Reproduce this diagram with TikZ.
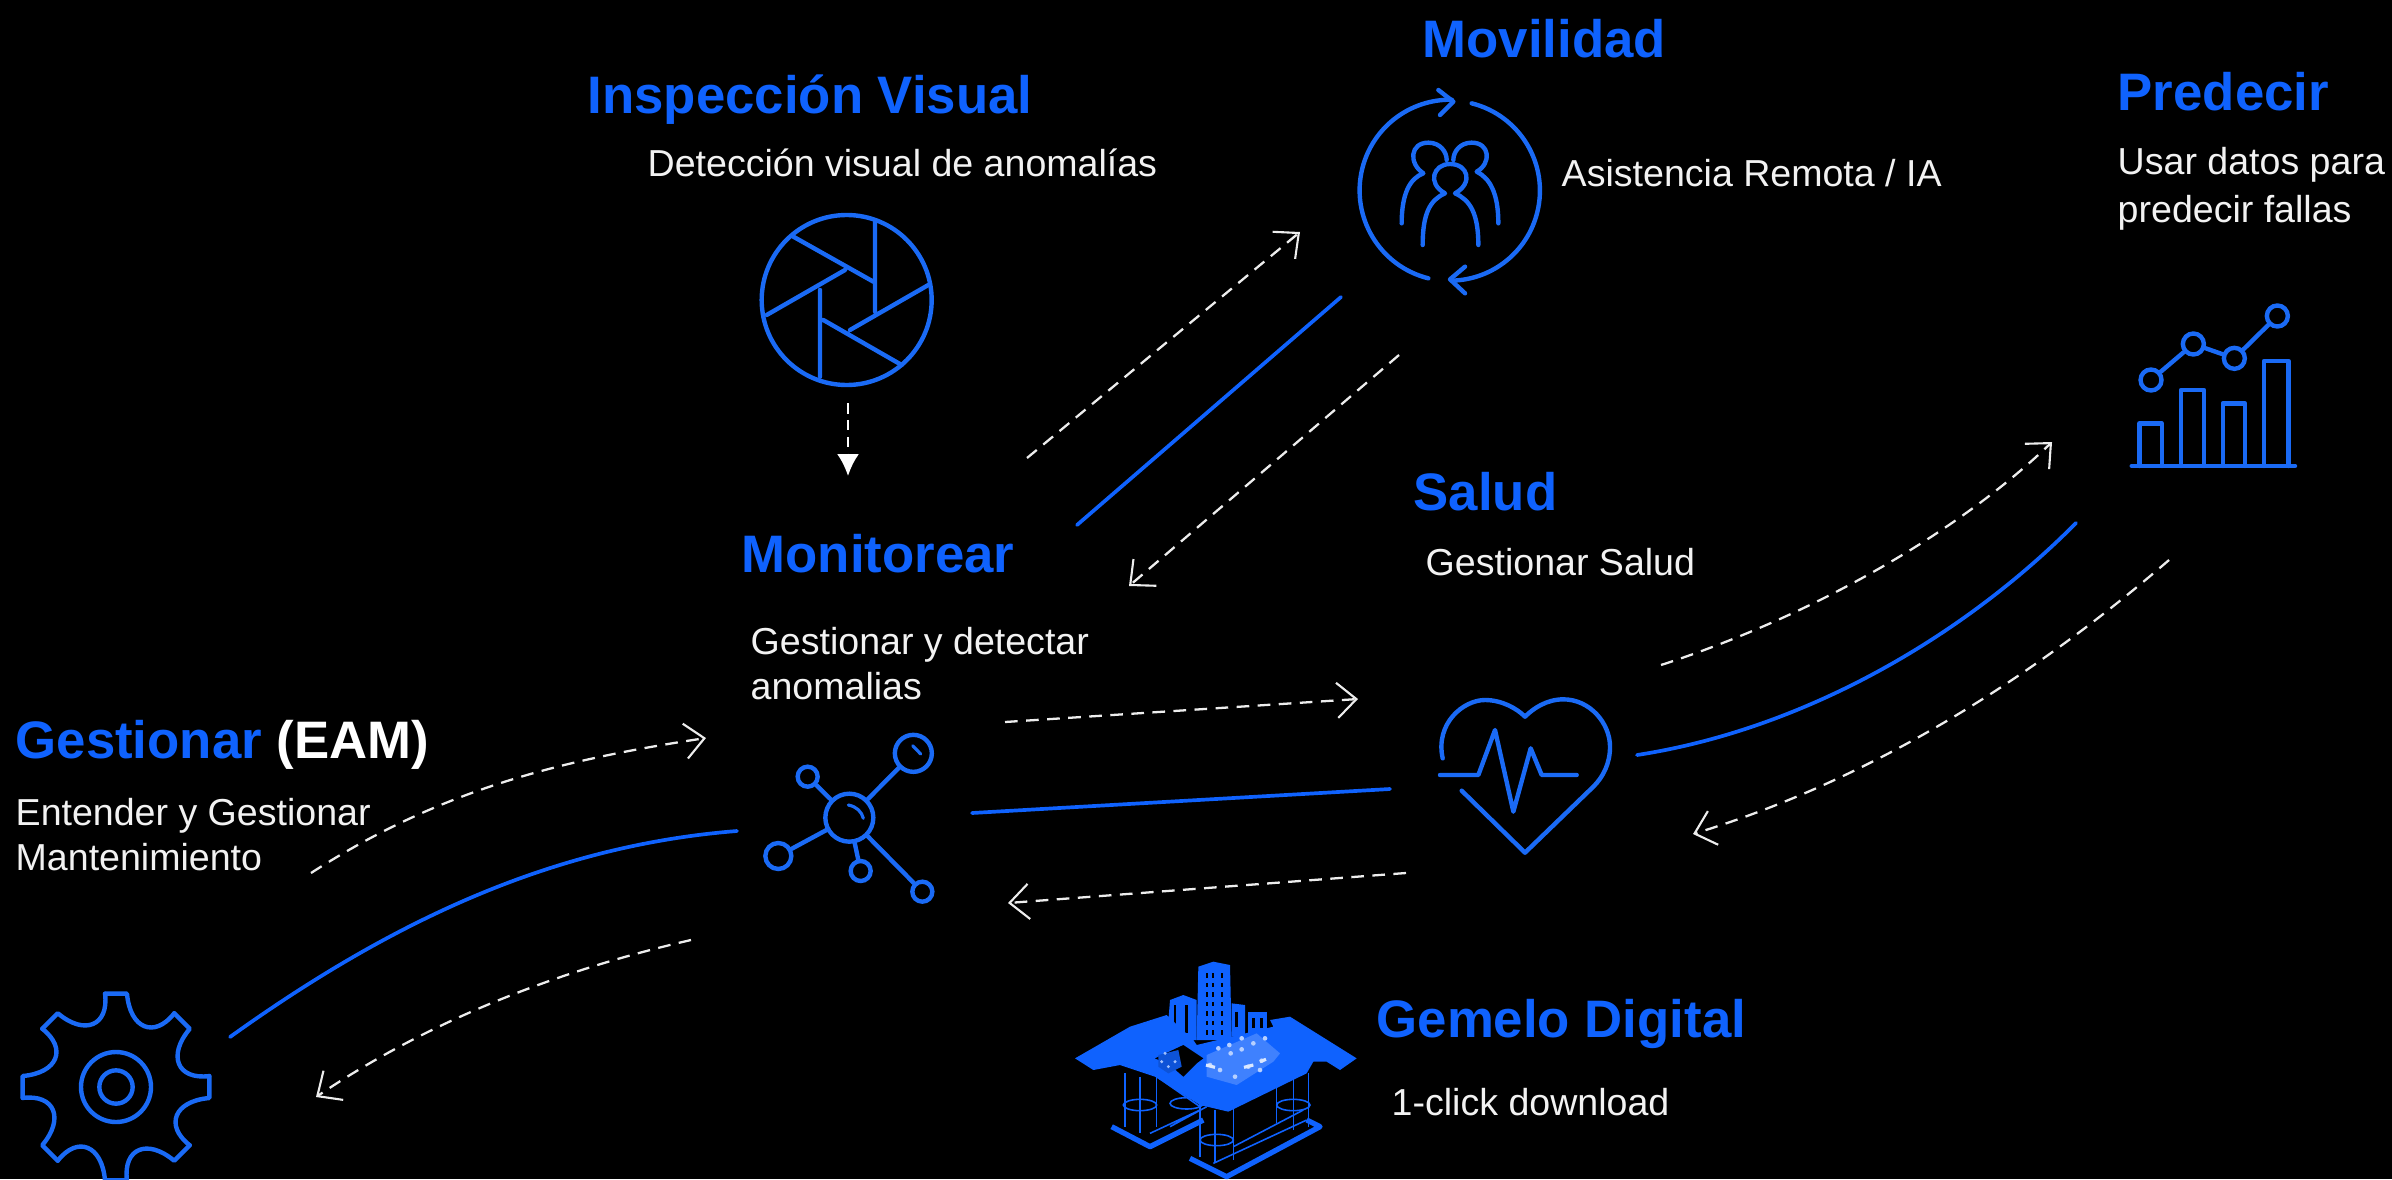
\documentclass[tikz,border=0pt]{standalone}
\usepackage{fontspec}
\setmainfont{Liberation Sans}
\usetikzlibrary{arrows.meta}
\definecolor{ibmblue}{HTML}{0F62FE}
\definecolor{iconblue}{HTML}{1A6AF5}
\definecolor{dashgray}{HTML}{EDEDED}
\definecolor{bodygray}{HTML}{F2F2F2}
\tikzset{
  x=0.01cm,y=-0.01cm,
  titletext/.style={anchor=base west,inner sep=0pt,text=ibmblue,font=\fontsize{15}{18}\selectfont\bfseries},
  bodytext/.style={anchor=north west,inner sep=0pt,text=bodygray,align=left,font=\fontsize{10.68}{12.8}\selectfont},
  iconline/.style={draw=iconblue,line width=1.25pt,line cap=round,line join=round},
  ring/.style={circle,draw=iconblue,line width=1.25pt,inner sep=0pt},
  bluelink/.style={draw=ibmblue,line width=1.05pt,line cap=round},
  dashlink/.style={draw=dashgray,line width=0.65pt,dash pattern=on 3.6pt off 2.4pt,-{Straight Barb[length=5.5pt,width=10pt,line width=0.6pt]}},
  thinrig/.style={draw=ibmblue,line width=0.45pt},
}
\begin{document}
\begin{tikzpicture}
\fill[black] (0,0) rectangle (2392,1179);
\useasboundingbox (0,0) rectangle (2392,1179);

% ---------- titles and texts
\node[titletext] (tMov) at (1422,58) {Movilidad};
\node[titletext] (tIns) at (587,114) {Inspección Visual};
\node[titletext] (tPre) at (2117,111) {Predecir};
\node[titletext] (tSal) at (1413,510) {Salud};
\node[titletext] (tMon) at (741,572) {Monitorear};
\node[titletext] (tGes) at (15,758) {Gestionar \textcolor{white}{(EAM)}};
\node[titletext] (tGem) at (1376,1037) {Gemelo Digital};
\node[bodytext] (bIns) at (647,148) {Detección visual de anomalías};
\node[bodytext] (bMov) at (1561,159) {Asistencia Remota / IA};
\node[bodytext] (bPre) at (2117,147) {Usar datos para\\[0.6pt]predecir fallas};
\node[bodytext] (bSal) at (1425,548) {Gestionar Salud};
\node[bodytext] (bMon) at (750,627) {Gestionar y detectar\\anomalias};
\node[bodytext] (bGes) at (15,798) {Entender y Gestionar\\Mantenimiento};
\node[bodytext] (bGem) at (1391,1088) {1-click download};

% ---------- shutter icon
\begin{scope}[shift={(720,180)},scale=1/3]
  \node[ring,minimum size=0.01cm*170] (shutter) at (380,360) {};
  \draw[iconline] (220,170)--(460,305) (465,125)--(465,395) (625,315)--(390,450)
    (545,555)--(310,420) (300,590)--(300,330) (140,405)--(375,270);
\end{scope}

% ---------- mobility icon
\begin{scope}[shift={(1340,60)},scale=1/3]
  \coordinate (movc) at (330,390);
  \draw[iconline] (265,655) arc[start angle=104,end angle=271,radius=272];
  \draw[iconline] (395,130) arc[start angle=-76,end angle=88,radius=270];
  \draw[iconline] (295,90)--(340,125)--(300,165);
  \draw[iconline] (375,620)--(330,658)--(375,700);
  \draw[iconline] (185,490) .. controls (185,400) and (210,355) .. (250,340)
     .. controls (205,310) and (210,248) .. (265,248) .. controls (300,248) and (320,275) .. (320,300);
  \draw[iconline] (475,490) .. controls (475,400) and (450,355) .. (410,335)
     .. controls (455,310) and (450,248) .. (395,248) .. controls (360,248) and (340,275) .. (340,300);
  \draw[iconline] (248,555) .. controls (248,460) and (270,420) .. (315,400)
     .. controls (260,370) and (280,312) .. (330,312) .. controls (385,312) and (400,370) .. (345,400)
     .. controls (390,420) and (415,460) .. (415,555);
\end{scope}

% ---------- hub icon
\begin{scope}[shift={(720,680)},scale=1/3]
  \node[ring,minimum size=0.01cm*48] (hub) at (388,413) {};
  \node[ring,minimum size=0.01cm*20] (h1) at (263,290) {};
  \node[ring,minimum size=0.01cm*37] (h2) at (580,220) {};
  \node[ring,minimum size=0.01cm*26] (h3) at (175,528) {};
  \node[ring,minimum size=0.01cm*20] (h4) at (422,573) {};
  \node[ring,minimum size=0.01cm*20] (h5) at (607,635) {};
  \foreach \n in {h1,h2,h3,h4,h5} \draw[iconline] (hub)--(\n);
  \draw[iconline,line width=0.9pt] (385,375) .. controls (410,380) and (425,395) .. (430,415);
  \draw[iconline,line width=0.9pt] (578,197) -- (602,222);
\end{scope}

% ---------- gear icon
\begin{scope}[shift={(116,1087)},scale=1/3]
  \foreach \a in {0,45,...,315}
    \draw[iconline,rotate=\a] (-33,-280)--(33,-280) .. controls (42,-175) and (115,-145) .. (174.6,-221);
  \draw[iconline] (0,0) circle[radius=105];
  \draw[iconline] (0,0) circle[radius=50];
\end{scope}

% ---------- chart icon
\begin{scope}[shift={(2100,280)},scale=1/3]
  \draw[iconline] (95,558)--(585,558);
  \draw[iconline] (118,558)--(118,430)--(185,430)--(185,558);
  \draw[iconline] (243,558)--(243,330)--(312,330)--(312,558);
  \draw[iconline] (368,558)--(368,370)--(435,370)--(435,558);
  \draw[iconline] (492,558)--(492,243)--(565,243)--(565,558);
  \node[ring,minimum size=0.01cm*21] (c1) at (153,300) {};
  \node[ring,minimum size=0.01cm*21] (c2) at (280,192) {};
  \node[ring,minimum size=0.01cm*21] (c3) at (403,235) {};
  \node[ring,minimum size=0.01cm*21] (c4) at (532,108) {};
  \draw[iconline] (c1)--(c2) (c2)--(c3) (c3)--(c4);
\end{scope}

% ---------- heart icon
\begin{scope}[shift={(1400,670)},scale=1/3]
  \draw[iconline] (128,265) .. controls (105,160) and (190,90) .. (255,90)
    .. controls (305,90) and (350,115) .. (375,140) .. controls (400,115) and (440,88) .. (490,88)
    .. controls (570,88) and (630,160) .. (630,230) .. controls (630,280) and (610,320) .. (580,350)
    -- (375,548) -- (185,362);
  \draw[iconline] (120,315)--(235,315)--(285,180)--(340,425)--(392,235)--(425,315)--(530,315);
\end{scope}

% ---------- offshore platform icon
\begin{scope}[shift={(1040,930)},scale=1/3]
  % legs
  \draw[thinrig] (255,430)--(255,590) (300,440)--(300,610) (350,440)--(350,590);
  \draw[thinrig] (480,430)--(480,680) (525,540)--(525,700) (580,530)--(580,690);
  \draw[thinrig] (710,460)--(710,580) (760,440)--(760,600) (805,430)--(805,590);
  \foreach \c in {(300,525),(530,630),(760,525),(440,520)}
    \draw[thinrig] \c ellipse[x radius=50,y radius=17];
  % pontoons
  \draw[draw=ibmblue,line width=1.5pt,line join=round] (215,590)--(330,650)--(490,570);
  \draw[thinrig] (350,440)--(480,530) (390,590)--(500,530) (330,610)--(480,540);
  \draw[draw=ibmblue,line width=1.5pt,line join=round] (450,685)--(560,740)--(840,590)--(800,570);
  \draw[thinrig] (580,650)--(790,540) (520,700)--(800,570);
  % towers
  \fill[ibmblue] (475,110)--(520,95)--(570,105)--(575,330)--(470,330)--cycle;
  \fill[ibmblue] (390,210)--(430,195)--(470,210)--(470,330)--(380,335)--cycle;
  \fill[ibmblue] (575,220)--(615,225)--(615,320)--(575,320)--cycle;
  \fill[ibmblue] (625,245)--(680,245)--(680,320)--(625,320)--cycle;
  \draw[black,line width=0.8pt] (405,225)--(405,310) (440,225)--(440,310) (590,245)--(590,290)
     (640,265)--(640,295) (665,265)--(665,295);
  \draw[black,line width=0.5pt,dash pattern=on 1.2pt off 1.5pt] (500,130)--(500,320) (520,130)--(520,320) (545,130)--(545,320);
  % decks
  \fill[ibmblue] (105,385)--(270,290)--(380,255)--(460,330)--(470,345)--(700,290)--(690,270)--(750,260)--(950,385)--(900,420)--(860,395)--(820,395)
     --(800,430)--(565,545)--(480,525)--(345,440)--(240,405)--(160,420)--cycle;
  \fill[black] (345,385)--(430,345)--(490,385)--(470,400)--(430,440)--(390,405)--cycle;
  \fill[ibmblue!85!black] (355,375)--(415,360)--(425,410)--(385,430)--(355,410)--cycle;
  % module with speckles
  \fill[ibmblue!80!white] (500,375)--(650,310)--(720,370)--(700,395)--(590,465)--(500,440)--cycle;
  \foreach \p in {(535,355),(568,345),(605,325),(640,340),(675,325),(572,370),(605,358),(510,405),(625,410),(665,392),(540,420),(585,440),(660,420)}
    \fill[white!70!ibmblue] \p circle[radius=7];
  \draw[white!85!ibmblue,line width=0.9pt] (498,405)--(525,412) (612,412)--(640,405) (660,395)--(678,388);
  \foreach \p in {(365,395),(385,410),(405,395),(375,370)}
    \fill[white!60!ibmblue] \p circle[radius=5];
\end{scope}

% ---------- connector end points
\coordinate (mA) at (1077,525); \coordinate (mB) at (1341,297);
\coordinate (sA) at (972,813);  \coordinate (sB) at (1390,789);
\coordinate (pA) at (1637,755); \coordinate (pB) at (2076,523);
\coordinate (gA) at (230,1037); \coordinate (gB) at (737,831);
\coordinate (d1a) at (848,403);  \coordinate (d1b) at (848,476);
\coordinate (d2a) at (1027,458); \coordinate (d2b) at (1300,232);
\coordinate (d3a) at (1399,355); \coordinate (d3b) at (1129,586);
\coordinate (d4a) at (1005,722); \coordinate (d4b) at (1358,699);
\coordinate (d5a) at (1406,873); \coordinate (d5b) at (1008,903);
\coordinate (d6a) at (1661,665); \coordinate (d6b) at (2052,442);
\coordinate (d7a) at (2169,560); \coordinate (d7b) at (1693,834);
\coordinate (d8a) at (311,873);  \coordinate (d8b) at (706,738);
\coordinate (d9a) at (691,940);  \coordinate (d9b) at (316,1097);

% ---------- blue links
\draw[bluelink] (mA)--(mB);
\draw[bluelink] (sA)--(sB);
\draw[bluelink] (pA) .. controls (1800,730) and (1960,640) .. (pB);
\draw[bluelink] (gA) .. controls (400,915) and (560,845) .. (gB);

% ---------- dashed links
\draw[draw=white,line width=0.7pt,dash pattern=on 3pt off 1.8pt,-{Latex[length=6.2pt,width=6.2pt]}] (d1a)--(d1b);
\draw[dashlink] (d2a)--(d2b);
\draw[dashlink] (d3a)--(d3b);
\draw[dashlink] (d4a)--(d4b);
\draw[dashlink] (d5a)--(d5b);
\draw[dashlink] (d6a) .. controls (1800,620) and (1950,540) .. (d6b);
\draw[dashlink] (d7a) .. controls (2030,680) and (1870,780) .. (d7b);
\draw[dashlink] (d8a) .. controls (440,790) and (560,760) .. (d8b);
\draw[dashlink] (d9a) .. controls (560,970) and (430,1020) .. (d9b);
\end{tikzpicture}
\end{document}
